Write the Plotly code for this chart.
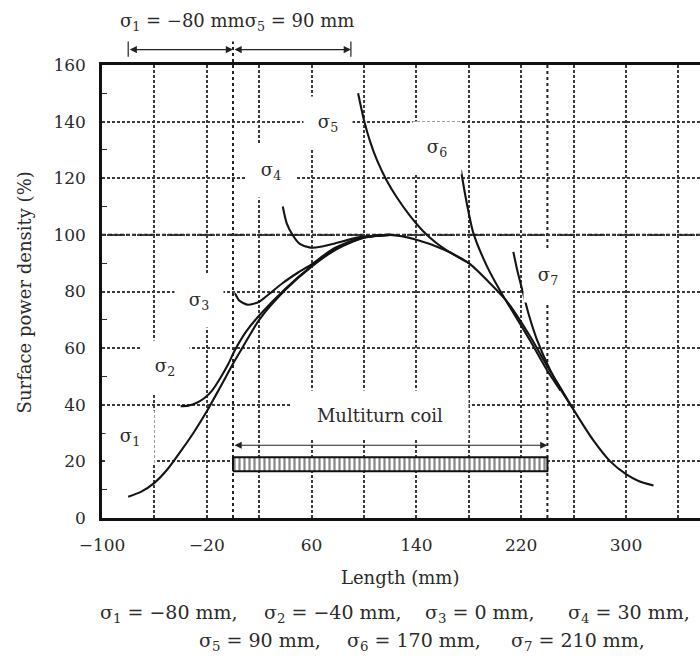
import plotly.graph_objects as go

# ---------------- data ----------------
sigma1_x = [-80, -70, -60, -50, -40, -30, -20, -10, 0, 7, 20, 40, 60, 80, 100, 120, 140, 160, 180, 196, 210, 227, 240, 250, 259, 275, 288, 300, 310, 321]
sigma1_y = [7.5, 9.3, 12.4, 17.2, 23.5, 30.2, 37.7, 46, 54.5, 60, 70, 80.6, 88.8, 95.2, 99, 100, 98.3, 95, 90, 83, 76, 64, 53.5, 46, 39, 27.5, 20, 15.5, 13, 11.5]

sigma2_x = [-40, -34, -28, -22, -16, -10, -4, 1.5, 10, 20, 40, 60, 80, 100, 120]
sigma2_y = [39.5, 39.7, 40.6, 42.3, 45, 49.2, 54, 59.3, 65.8, 71.5, 81, 89, 95.5, 99.1, 100]

sigma3_x = [1.5, 5, 11.5, 20, 26, 38, 50, 60, 77, 98, 120]
sigma3_y = [79.4, 76.7, 75.3, 76.4, 78.5, 83, 86.8, 89.6, 95.2, 99, 100]

sigma4_x = [38, 41, 46, 51, 59, 68, 77, 97, 120]
sigma4_y = [110, 104.1, 99.6, 96.8, 95.5, 95.9, 96.9, 99.2, 100]

sigma5_x = [95.5, 100, 105, 110, 117, 125, 135, 145, 155, 165, 180]
sigma5_y = [150, 140.5, 132.5, 126.3, 119.5, 113.3, 106.8, 101.4, 97.2, 94, 90]

sigma6_x = [174, 178, 183.5, 194, 205, 212, 227, 240, 250]
sigma6_y = [122.9, 112.3, 100.6, 88.8, 79.4, 74, 62.5, 52, 45]

sigma7_x = [214, 217, 221.5, 226, 232, 242, 250, 259]
sigma7_y = [94, 87.5, 79.4, 71.5, 63, 52.4, 45.5, 39]

curve_names = ["σ1", "σ2", "σ3", "σ4", "σ5", "σ6", "σ7"]
sigma_values_mm = [-80, -40, 0, 30, 90, 170, 210]

coil_start = 0
coil_end = 240
coil_bottom = 16.5
coil_top = 21.5

x_tickvals = [-100, -20, 60, 140, 220, 300]
x_ticktext = ["−100", "−20", "60", "140", "220", "300"]
y_tickvals = [0, 20, 40, 60, 80, 100, 120, 140, 160]

# ---------------- figure ----------------
FONT = "DejaVu Serif"
TXT = "#2a2a2a"
GRID = "#3a3a3a"

fig = go.Figure()

# coil bar
fig.add_trace(go.Scatter(
    x=[coil_start, coil_end, coil_end, coil_start, coil_start],
    y=[coil_bottom, coil_bottom, coil_top, coil_top, coil_bottom],
    mode="lines", fill="toself", fillcolor="white",
    fillpattern=dict(shape="|", size=5, solidity=0.45, fgcolor="#111111", bgcolor="white"),
    line=dict(color="#111111", width=2), hoverinfo="skip", showlegend=False))

curves = [(sigma1_x, sigma1_y), (sigma2_x, sigma2_y), (sigma3_x, sigma3_y), (sigma4_x, sigma4_y),
          (sigma5_x, sigma5_y), (sigma6_x, sigma6_y), (sigma7_x, sigma7_y)]
for (cx, cy), nm in zip(curves, curve_names):
    fig.add_trace(go.Scatter(x=cx, y=cy, mode="lines", name=nm,
                             line=dict(color="#141414", width=2.1, shape="spline", smoothing=0.7),
                             showlegend=False))

annotations = []
label_pos = [(-78.6, 28.7), (-51.9, 53.4), (-26, 76.7), (29, 122.6), (72.5, 139.5), (155.7, 130.7), (240.5, 85.5)]
for i, (lx, ly) in enumerate(label_pos):
    annotations.append(dict(x=lx, y=ly, xref="x", yref="y", showarrow=False,
                            text=f"σ<sub>{i+1}</sub>", font=dict(family=FONT, size=18, color=TXT),
                            bgcolor="white", width=46, height=50))

annotations.append(dict(x=112.2, y=36.5, xref="x", yref="y", showarrow=False,
                        text="Multiturn coil", font=dict(family=FONT, size=18, color=TXT),
                        bgcolor="white", width=174, height=46))

# coil arrow
annotations.append(dict(x=coil_end, y=25.7, ax=coil_start, ay=25.7, xref="x", yref="y",
                        axref="x", ayref="y", showarrow=True, text="", arrowside="end+start",
                        arrowhead=2, arrowsize=1.2, arrowwidth=1.2, arrowcolor="#222"))

# top arrows (above the plot)
for a, b in [(sigma_values_mm[0], sigma_values_mm[2]), (sigma_values_mm[2], sigma_values_mm[4])]:
    annotations.append(dict(x=b, y=1.034, ax=a, ay=0, xref="x", yref="paper",
                            axref="x", showarrow=True, text="", arrowside="end+start",
                            arrowhead=2, arrowsize=1.2, arrowwidth=1.2, arrowcolor="#222"))

annotations.append(dict(x=0.225, y=1.096, xref="paper", yref="paper", showarrow=False,
                        xanchor="center", yanchor="middle",
                        text="σ<sub>1</sub> = −80 mmσ<sub>5</sub> = 90 mm",
                        font=dict(family=FONT, size=18, color=TXT)))

annotations.append(dict(x=0.498, y=-0.131, xref="paper", yref="paper", showarrow=False,
                        xanchor="center", yanchor="middle",
                        text="Length (mm)", font=dict(family=FONT, size=18, color=TXT)))
annotations.append(dict(x=-0.129, y=0.4977, xref="paper", yref="paper", showarrow=False,
                        xanchor="center", yanchor="middle",
                        text="Surface power density (%)", textangle=-90,
                        font=dict(family=FONT, size=18, color=TXT)))

# caption below the chart: one text per sigma, placed like the reference
caption_items = [f"σ<sub>{i+1}</sub> = {'−' if v < 0 else ''}{abs(v)} mm," for i, v in enumerate(sigma_values_mm)]
caption_left_px = [98, 262, 423, 566, 197, 345, 509]
caption_row = [0, 0, 0, 0, 1, 1, 1]
caption_y = [-0.2108, -0.2726]
for txt, px, r in zip(caption_items, caption_left_px, caption_row):
    annotations.append(dict(x=(px - 102) / 598, y=caption_y[r], xref="paper", yref="paper", showarrow=False,
                            xanchor="left", yanchor="middle", text=txt,
                            font=dict(family=FONT, size=19, color=TXT)))

shapes = [
    dict(type="line", xref="paper", yref="y", x0=0, x1=1, y0=100, y1=100, layer="below",
         line=dict(color="#222", width=2.4, dash="4px,2px")),
    dict(type="line", xref="x", yref="paper", x0=coil_start, x1=coil_start, y0=0, y1=1.052, layer="below",
         line=dict(color="#222", width=2, dash="dot")),
    dict(type="line", xref="x", yref="paper", x0=coil_end, x1=coil_end, y0=0, y1=1, layer="below",
         line=dict(color="#222", width=2, dash="dot")),
    dict(type="line", xref="x", yref="paper", x0=sigma_values_mm[0], x1=sigma_values_mm[0], y0=1.018, y1=1.052,
         line=dict(color="#222", width=1.2)),
    dict(type="line", xref="x", yref="paper", x0=sigma_values_mm[4], x1=sigma_values_mm[4], y0=1.018, y1=1.052,
         line=dict(color="#222", width=1.2)),
]

fig.update_layout(
    width=700, height=658,
    margin=dict(l=102, r=0, t=65, b=140),
    paper_bgcolor="white", plot_bgcolor="white",
    showlegend=False,
    annotations=annotations, shapes=shapes,
    font=dict(family=FONT, size=17, color=TXT),
)
fig.update_xaxes(
    range=[-100, 356.5], tickvals=x_tickvals, ticktext=x_ticktext,
    showgrid=True, gridcolor=GRID, gridwidth=1.5, griddash="3px,2px",
    showline=True, linecolor="#111", linewidth=2.5, mirror=True,
    ticks="", ticklabelstandoff=10, tickfont=dict(family=FONT, size=17, color=TXT),
    zeroline=False,
    minor=dict(tick0=-60, dtick=40, showgrid=True, gridcolor=GRID, gridwidth=1.5, griddash="3px,2px", ticks=""),
)
fig.update_yaxes(
    range=[0, 160], tickvals=y_tickvals,
    showgrid=True, gridcolor=GRID, gridwidth=1.5, griddash="3px,2px",
    showline=True, linecolor="#111", linewidth=2.5,
    ticks="", ticklabelstandoff=10, tickfont=dict(family=FONT, size=17, color=TXT),
    zeroline=False,
    minor=dict(tick0=10, dtick=20, ticks="inside", ticklen=5, tickcolor="#333", tickwidth=1.2, showgrid=False),
)

fig.write_html("out.html")
